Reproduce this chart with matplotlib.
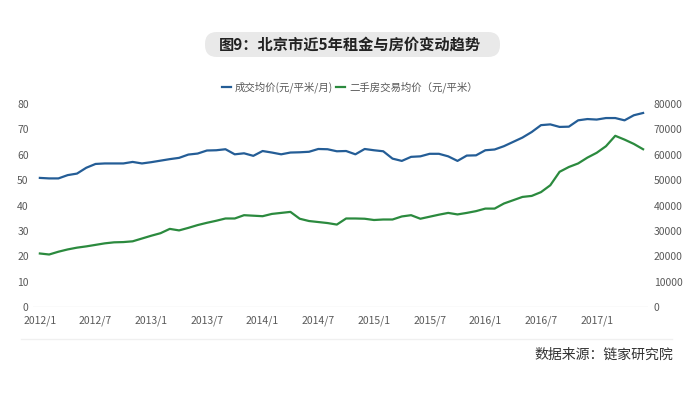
import matplotlib
matplotlib.use("Agg")
import matplotlib.pyplot as plt
from matplotlib.patches import FancyBboxPatch
from matplotlib.lines import Line2D

plt.rcParams['font.family'] = ['Noto Sans CJK SC', 'DejaVu Sans']

# monthly data, 2012/1 - 2017/6
rent = [50.9, 50.7, 50.7, 52.0, 52.6, 54.9, 56.4, 56.6, 56.6, 56.6,
        57.2, 56.6, 57.1, 57.7, 58.3, 58.8, 60.1, 60.5, 61.7, 61.8,
        62.2, 60.2, 60.6, 59.6, 61.5, 60.9, 60.2, 60.9, 61.0, 61.2,
        62.3, 62.2, 61.4, 61.5, 60.2, 62.3, 61.8, 61.4, 58.5, 57.6,
        59.2, 59.4, 60.4, 60.4, 59.4, 57.6, 59.7, 59.8, 61.8, 62.1,
        63.4, 65.1, 66.8, 69.0, 71.7, 72.0, 71.0, 71.1, 73.6, 74.1,
        73.9, 74.5, 74.5, 73.6, 75.6, 76.5]
price = [21100, 20700, 21800, 22700, 23400, 23900, 24500, 25100, 25500, 25600,
         25900, 27000, 28100, 29100, 30800, 30200, 31200, 32300, 33200, 34000,
         34900, 34900, 36200, 36000, 35800, 36700, 37100, 37500, 34800, 33900,
         33500, 33100, 32500, 34900, 34900, 34800, 34300, 34500, 34500, 35700,
         36200, 34800, 35600, 36400, 37100, 36500, 37100, 37800, 38800, 38800,
         40800, 42100, 43400, 43800, 45300, 48000, 53300, 55200, 56600, 58900,
         60800, 63400, 67500, 66000, 64300, 62200]
tick_labels = ['2012/1', '2012/7', '2013/1', '2013/7', '2014/1', '2014/7',
               '2015/1', '2015/7', '2016/1', '2016/7', '2017/1']

blue = '#245d96'
green = '#2b8a3e'
tick_color = '#595959'

fig = plt.figure(figsize=(7, 3.94), dpi=100)
ax = fig.add_axes([0.047, 0.2208, 0.879, 0.515])
ax2 = ax.twinx()

x = list(range(len(rent)))
ax.plot(x, rent, color=blue, lw=1.6, zorder=3)
ax2.plot(x, price, color=green, lw=1.6, zorder=3)

ax.set_xlim(-0.75, len(rent) - 0.45)
ax.set_ylim(0, 80)
ax2.set_ylim(0, 80000)
ax.set_yticks(range(0, 81, 10))
ax2.set_yticks(range(0, 80001, 10000))
ax.set_xticks(range(0, 61, 6))
ax.set_xticklabels(tick_labels)

for a in (ax, ax2):
    for s in a.spines.values():
        s.set_visible(False)
ax.axhline(0, color='#e6e6e6', lw=1, zorder=1)
ax.tick_params(axis='y', length=0, pad=3, labelsize=7.5, labelcolor=tick_color)
ax.tick_params(axis='x', length=0, pad=6, labelsize=7.5, labelcolor=tick_color)
ax2.tick_params(axis='y', length=0, pad=4, labelsize=7.5, labelcolor=tick_color)

# title box
box = FancyBboxPatch((205 / 700, 1 - 57 / 394), 295 / 700, 25 / 394,
                     boxstyle="round,pad=0,rounding_size=0.017",
                     mutation_aspect=700 / 394, transform=fig.transFigure,
                     facecolor='#e9e9e9', edgecolor='none')
fig.patches.append(box)
fig.text(0.5, 1 - 44.5 / 394, '图9：北京市近5年租金与房价变动趋势', ha='center', va='center',
         fontsize=11, fontweight='bold', color='#222222')

# legend
handles = [Line2D([], [], color=blue, lw=1.6), Line2D([], [], color=green, lw=1.6)]
fig.legend(handles, ['成交均价(元/平米/月)', '二手房交易均价（元/平米）'],
           loc='center', bbox_to_anchor=(0.5, 1 - 87 / 394), ncol=2, frameon=False,
           fontsize=7.5, labelcolor=tick_color, handlelength=0.8, handletextpad=0.4,
           columnspacing=0.3)

# source
fig.add_artist(Line2D([0.03, 0.96], [1 - 339 / 394, 1 - 339 / 394], color='#f0f0f0',
                      lw=1, transform=fig.transFigure))
fig.text(673 / 700, 1 - 355 / 394, '数据来源：链家研究院', ha='right', va='center',
         fontsize=10, color='#333333')

fig.savefig('out.png', dpi=100, facecolor='white')
